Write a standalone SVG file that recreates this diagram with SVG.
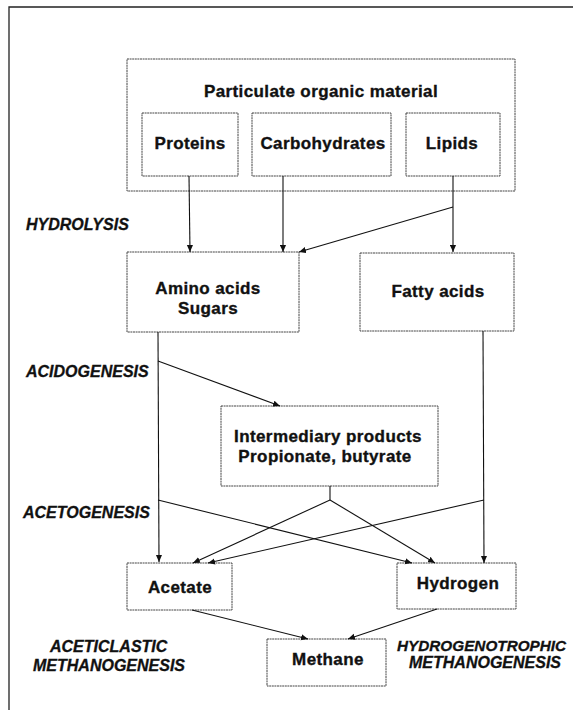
<svg xmlns="http://www.w3.org/2000/svg" width="573" height="710" viewBox="0 0 573 710">
<defs>
<style>
.box{fill:#fff;stroke:#444;stroke-width:1;stroke-dasharray:2 0.6}
.frame{fill:none;stroke:#222;stroke-width:1.3}
.n{font-family:"Liberation Sans",Arial,sans-serif;font-weight:bold;font-size:17px;letter-spacing:0.4px;text-anchor:middle;fill:#111;stroke:#111;stroke-width:0.35}
.s{font-family:"Liberation Sans",Arial,sans-serif;font-weight:bold;font-style:italic;font-size:16px;fill:#111;stroke:#111;stroke-width:0.3}
.c{fill:none;stroke:#111;stroke-width:1.1}
</style>
<marker id="ah" viewBox="0 0 8 8" refX="8" refY="4" markerWidth="7" markerHeight="7" markerUnits="userSpaceOnUse" orient="auto">
<path d="M0,0.5 L8,4 L0,7.5 Z" fill="#111"/>
</marker>
</defs>
<rect width="573" height="710" fill="#fff"/>
<path class="frame" d="M9,710 V7 H573"/>

<g id="particulate">
<rect class="box" x="127" y="59" width="388" height="132"/>
<text class="n" x="321" y="97">Particulate organic material</text>
</g>
<g id="proteins">
<rect class="box" x="142" y="113" width="96" height="63"/>
<text class="n" x="190" y="149">Proteins</text>
</g>
<g id="carbohydrates">
<rect class="box" x="252" y="113" width="139" height="63"/>
<text class="n" x="323" y="149">Carbohydrates</text>
</g>
<g id="lipids">
<rect class="box" x="406" y="113" width="94" height="63"/>
<text class="n" x="452" y="149">Lipids</text>
</g>
<g id="amino">
<rect class="box" x="127" y="252" width="172" height="80"/>
<text class="n" x="208" y="294">Amino acids</text>
<text class="n" x="208" y="314">Sugars</text>
</g>
<g id="fatty">
<rect class="box" x="360" y="253" width="154" height="78"/>
<text class="n" x="438" y="297">Fatty acids</text>
</g>
<g id="intermediary">
<rect class="box" x="221" y="406" width="217" height="80"/>
<text class="n" x="328" y="442">Intermediary products</text>
<text class="n" x="325" y="462">Propionate, butyrate</text>
</g>
<g id="acetate">
<rect class="box" x="127" y="563" width="105" height="47"/>
<text class="n" x="180" y="593">Acetate</text>
</g>
<g id="hydrogen">
<rect class="box" x="397" y="563" width="119" height="46"/>
<text class="n" x="458" y="589">Hydrogen</text>
</g>
<g id="methane">
<rect class="box" x="267" y="639" width="119" height="47"/>
<text class="n" x="328" y="665">Methane</text>
</g>

<g id="labels">
<text class="s" x="26" y="230">HYDROLYSIS</text>
<text class="s" x="26" y="377">ACIDOGENESIS</text>
<text class="s" x="23" y="518">ACETOGENESIS</text>
<text class="s" x="50" y="652">ACETICLASTIC</text>
<text class="s" x="33" y="671">METHANOGENESIS</text>
<text class="s" x="397" y="651" style="font-size:15.3px">HYDROGENOTROPHIC</text>
<text class="s" x="409" y="668">METHANOGENESIS</text>
</g>

<g id="connectors">
<path class="c" d="M189,176 L190,252" marker-end="url(#ah)"/>
<path class="c" d="M283,176 L283,252" marker-end="url(#ah)"/>
<path class="c" d="M453,176 L453,252" marker-end="url(#ah)"/>
<path class="c" d="M453,207 L299,252" marker-end="url(#ah)"/>
<path class="c" d="M158,332 L159,562" marker-end="url(#ah)"/>
<path class="c" d="M158,361 L280,406" marker-end="url(#ah)"/>
<path class="c" d="M158,500 L412,563" marker-end="url(#ah)"/>
<path class="c" d="M483,331 L484,563" marker-end="url(#ah)"/>
<path class="c" d="M484,500 L208,563" marker-end="url(#ah)"/>
<path class="c" d="M330,486 L330,500"/>
<path class="c" d="M330,500 L193,563" marker-end="url(#ah)"/>
<path class="c" d="M330,500 L435,563" marker-end="url(#ah)"/>
<path class="c" d="M192,610 L308,639" marker-end="url(#ah)"/>
<path class="c" d="M437,609 L348,639" marker-end="url(#ah)"/>
</g>
</svg>
